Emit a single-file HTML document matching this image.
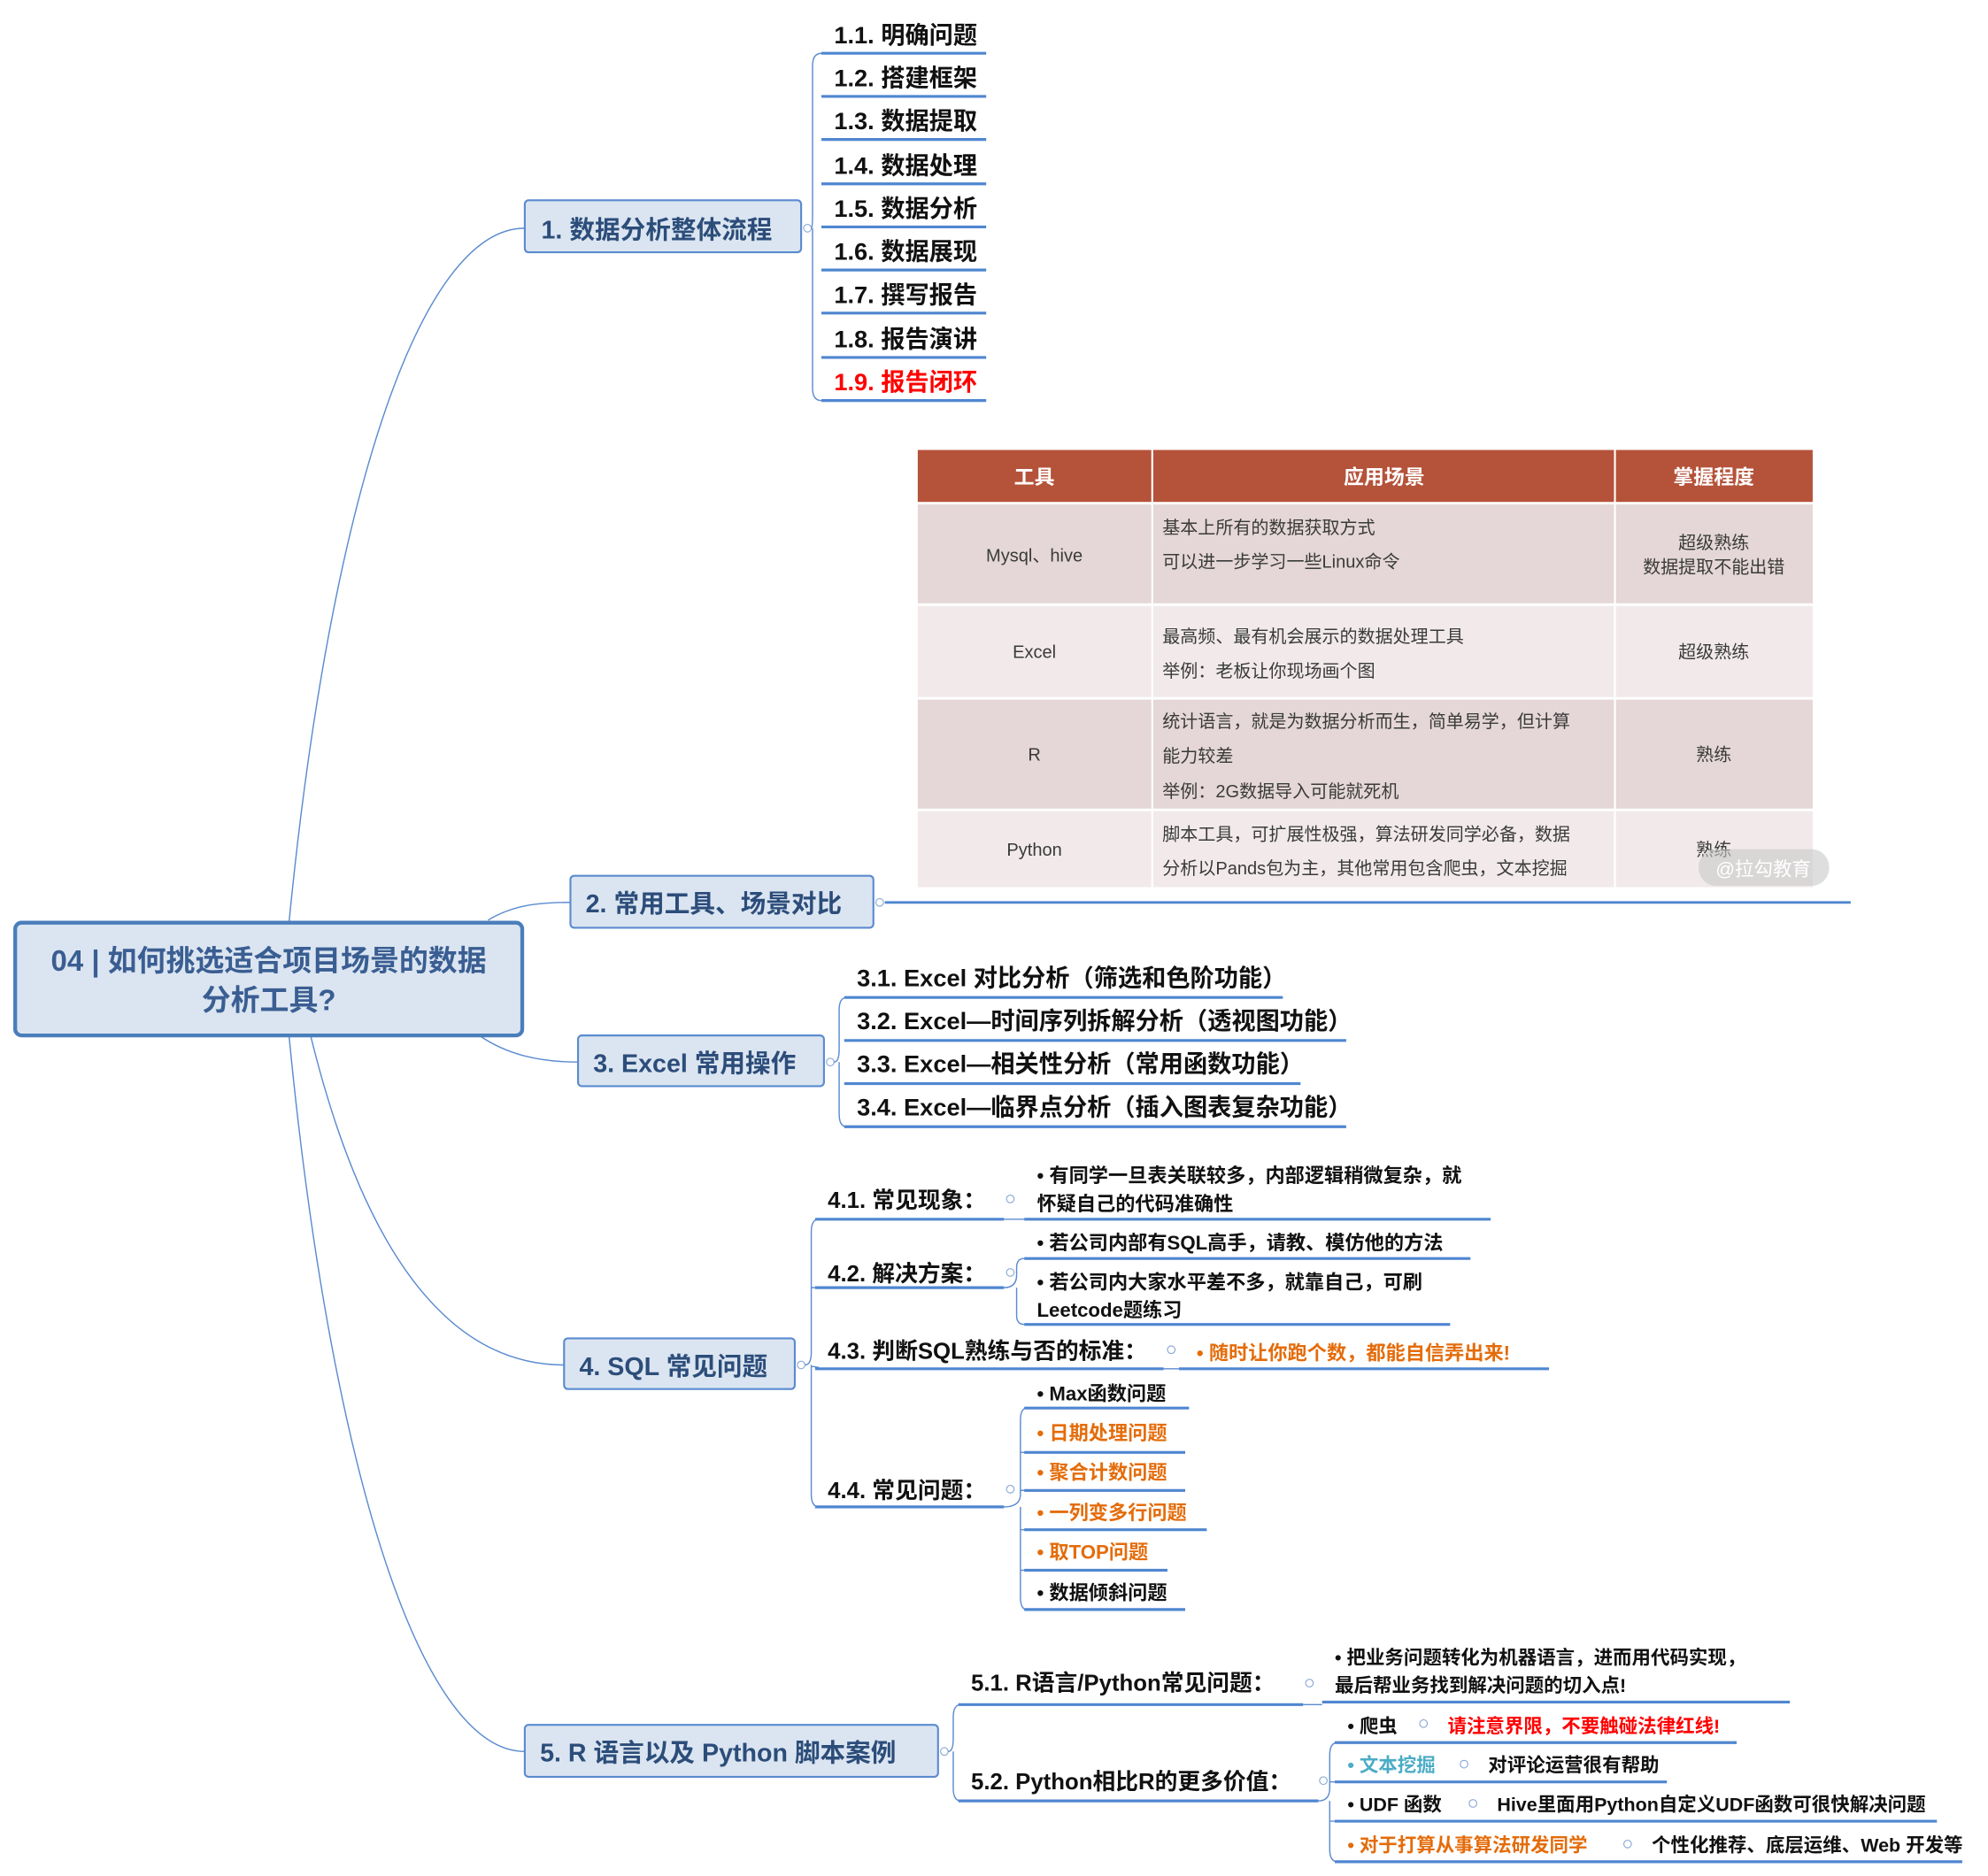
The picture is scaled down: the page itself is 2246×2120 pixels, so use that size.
<!DOCTYPE html>
<html><head><meta charset="utf-8"><style>
html,body{margin:0;padding:0;background:#fff}
svg{display:block}
text{font-family:"Liberation Sans","Noto Sans CJK SC",sans-serif}
.b{font-weight:bold;fill:#111}
.bx{fill:#dbe5f1;stroke:#5b8bd0;stroke-width:1.5}
.bt{font-weight:bold;fill:#2c4d7a;font-size:20px}
.ul{stroke:#4f86d0;stroke-width:2.2;fill:none}
.ln{stroke:#5b8bd0;stroke-width:1;fill:none}
.o{fill:#e46c0a;font-weight:bold}
.r{fill:#ff0000;font-weight:bold}
.t{font-size:14px;fill:#3a3a3a}
.dot{fill:#fff;stroke:#8aa9d6;stroke-width:0.8}
</style></head><body>
<svg width="2246" height="2120" viewBox="0 0 1568.3 1480.2" xmlns="http://www.w3.org/2000/svg">
<!-- root connectors -->
<path class="ln" d="M228 728 C260 400 330 180 414 180"/>
<path class="ln" d="M385 726 C405 714 425 712 450 712"/>
<path class="ln" d="M378 817 C400 832 425 838 456 838"/>
<path class="ln" d="M245 817 C290 1000 360 1077 445 1077"/>
<path class="ln" d="M228 817 C260 1150 330 1382 414 1382"/>

<!-- root -->
<rect x="12" y="728" width="400" height="89" rx="5" fill="#dbe5f1" stroke="#4a7ebb" stroke-width="3"/>
<text x="212" y="766" text-anchor="middle" font-size="23" font-weight="bold" fill="#3a5e92">04 | 如何挑选适合项目场景的数据</text>
<text x="212" y="797" text-anchor="middle" font-size="23" font-weight="bold" fill="#3a5e92">分析工具?</text>

<!-- branch 1 -->
<rect class="bx" x="414" y="158" width="218" height="41" rx="3"/>
<text class="bt" x="427" y="188">1. 数据分析整体流程</text>
<circle class="dot" cx="637" cy="180" r="3"/>
<path class="ln" d="M640 180 Q641 180 641 170 L641 52 Q641 42 648 42 M641 180 L641 306 Q641 316 648 316"/>
<g class="ul">
<line x1="648" y1="42" x2="778" y2="42"/><line x1="648" y1="76" x2="778" y2="76"/><line x1="648" y1="110" x2="778" y2="110"/>
<line x1="648" y1="145" x2="778" y2="145"/><line x1="648" y1="179" x2="778" y2="179"/><line x1="648" y1="213" x2="778" y2="213"/>
<line x1="648" y1="247" x2="778" y2="247"/><line x1="648" y1="282" x2="778" y2="282"/><line x1="648" y1="316" x2="778" y2="316"/>
</g>
<g class="b" font-size="19">
<text x="658" y="34">1.1. 明确问题</text><text x="658" y="68">1.2. 搭建框架</text><text x="658" y="102">1.3. 数据提取</text>
<text x="658" y="137">1.4. 数据处理</text><text x="658" y="171">1.5. 数据分析</text><text x="658" y="205">1.6. 数据展现</text>
<text x="658" y="239">1.7. 撰写报告</text><text x="658" y="274">1.8. 报告演讲</text>
</g>
<text x="658" y="308" font-size="19" class="r">1.9. 报告闭环</text>

<!-- branch 2 -->
<rect class="bx" x="450" y="691" width="239" height="41" rx="3"/>
<text class="bt" x="462" y="720">2. 常用工具、场景对比</text>
<circle class="dot" cx="694" cy="712" r="3"/>
<line x1="698" y1="712" x2="1460" y2="712" stroke="#4f86d0" stroke-width="2"/>

<!-- table -->
<rect x="724" y="355" width="706" height="41" fill="#b5523a"/>
<rect x="724" y="398" width="706" height="78" fill="#e5d7d7"/>
<rect x="724" y="478" width="706" height="72" fill="#f2eaea"/>
<rect x="724" y="552" width="706" height="86" fill="#e5d7d7"/>
<rect x="724" y="640" width="706" height="60" fill="#f2eaea"/>
<line x1="909" y1="355" x2="909" y2="700" stroke="#fff" stroke-width="1.5"/>
<line x1="1274" y1="355" x2="1274" y2="700" stroke="#fff" stroke-width="1.5"/>
<g font-size="16" font-weight="bold" fill="#fff" text-anchor="middle">
<text x="816" y="382">工具</text><text x="1092" y="382">应用场景</text><text x="1352" y="382">掌握程度</text></g>
<g class="t" text-anchor="middle">
<text x="816" y="443">Mysql、hive</text><text x="816" y="519">Excel</text><text x="816" y="600">R</text><text x="816" y="675">Python</text>
<text x="1352" y="433">超级熟练</text><text x="1352" y="452">数据提取不能出错</text>
<text x="1352" y="519">超级熟练</text><text x="1352" y="600">熟练</text><text x="1352" y="675">熟练</text></g>
<g class="t">
<text x="917" y="421">基本上所有的数据获取方式</text><text x="917" y="448">可以进一步学习一些Linux命令</text>
<text x="917" y="507">最高频、最有机会展示的数据处理工具</text><text x="917" y="534">举例：老板让你现场画个图</text>
<text x="917" y="574">统计语言，就是为数据分析而生，简单易学，但计算</text><text x="917" y="601">能力较差</text><text x="917" y="629">举例：2G数据导入可能就死机</text>
<text x="917" y="663">脚本工具，可扩展性极强，算法研发同学必备，数据</text><text x="917" y="690">分析以Pands包为主，其他常用包含爬虫，文本挖掘</text></g>
<rect x="1340" y="670" width="103" height="29" rx="14" fill="#c8c8c8" opacity="0.6"/>
<text x="1391" y="691" text-anchor="middle" font-size="15" fill="#fff">@拉勾教育</text>

<!-- branch 3 -->
<rect class="bx" x="456" y="817" width="194" height="40" rx="3"/>
<text class="bt" x="468" y="846">3. Excel 常用操作</text>
<circle class="dot" cx="655" cy="838" r="3"/>
<path class="ln" d="M658 838 Q662 838 662 828 L662 797 Q662 787 668 787 M662 838 L662 879 Q662 889 668 889"/>
<g class="ul"><line x1="666" y1="787" x2="1012" y2="787"/><line x1="666" y1="821" x2="1062" y2="821"/><line x1="666" y1="855" x2="1026" y2="855"/><line x1="666" y1="889" x2="1062" y2="889"/></g>
<g class="b" font-size="19">
<text x="676" y="778">3.1. Excel 对比分析（筛选和色阶功能）</text>
<text x="676" y="812">3.2. Excel—时间序列拆解分析（透视图功能）</text>
<text x="676" y="846">3.3. Excel—相关性分析（常用函数功能）</text>
<text x="676" y="880">3.4. Excel—临界点分析（插入图表复杂功能）</text></g>

<!-- branch 4 -->
<rect class="bx" x="445" y="1056" width="182" height="40" rx="3"/>
<text class="bt" x="457" y="1085">4. SQL 常见问题</text>
<circle class="dot" cx="632" cy="1077" r="3"/>
<path class="ln" d="M635 1077 Q640 1077 640 1067 L640 972 Q640 962 646 962 M640 1077 L640 1179 Q640 1189 646 1189 M640 1016 L646 1016 M640 1078 L646 1079"/>
<g class="ul"><line x1="643" y1="962" x2="792" y2="962"/><line x1="643" y1="1016" x2="792" y2="1016"/><line x1="643" y1="1080" x2="918" y2="1080"/><line x1="643" y1="1189" x2="792" y2="1189"/></g>
<g class="b" font-size="18">
<text x="653" y="953">4.1. 常见现象：</text><text x="653" y="1011">4.2. 解决方案：</text>
<text x="653" y="1072">4.3. 判断SQL熟练与否的标准：</text><text x="653" y="1182">4.4. 常见问题：</text></g>
<circle class="dot" cx="797" cy="946" r="3"/><circle class="dot" cx="797" cy="1004" r="3"/><circle class="dot" cx="924" cy="1065" r="3"/><circle class="dot" cx="797" cy="1175" r="3"/>
<line class="ln" x1="792" y1="962" x2="808" y2="962"/>
<line class="ln" x1="918" y1="1080" x2="930" y2="1080"/>
<path class="ln" d="M792 1016 Q802 1016 802 1006 L802 1000 Q802 993 808 993 M802 1016 L802 1038 Q802 1045 808 1045"/>
<path class="ln" d="M792 1189 Q805 1189 805 1179 L805 1121 Q805 1111 810 1111 M805 1189 L805 1260 Q805 1270 810 1270 M805 1146 L810 1146 M805 1176 L810 1176 M805 1207 L810 1207 M805 1239 L810 1239"/>
<g class="ul"><line x1="808" y1="962" x2="1176" y2="962"/><line x1="808" y1="993" x2="1160" y2="993"/><line x1="808" y1="1045" x2="1144" y2="1045"/><line x1="930" y1="1080" x2="1222" y2="1080"/>
<line x1="808" y1="1111" x2="938" y2="1111"/><line x1="808" y1="1146" x2="935" y2="1146"/><line x1="808" y1="1176" x2="935" y2="1176"/><line x1="808" y1="1207" x2="952" y2="1207"/><line x1="808" y1="1239" x2="921" y2="1239"/><line x1="808" y1="1270" x2="935" y2="1270"/></g>
<g class="b" font-size="15.5">
<text x="818" y="933">• 有同学一旦表关联较多，内部逻辑稍微复杂，就</text><text x="818" y="955">怀疑自己的代码准确性</text>
<text x="818" y="986">• 若公司内部有SQL高手，请教、模仿他的方法</text>
<text x="818" y="1017">• 若公司内大家水平差不多，就靠自己，可刷</text><text x="818" y="1039">Leetcode题练习</text>
<text x="818" y="1105">• Max函数问题</text><text x="818" y="1262">• 数据倾斜问题</text></g>
<g class="o" font-size="15.5">
<text x="944" y="1073">• 随时让你跑个数，都能自信弄出来!</text>
<text x="818" y="1136">• 日期处理问题</text><text x="818" y="1167">• 聚合计数问题</text><text x="818" y="1199">• 一列变多行问题</text><text x="818" y="1230">• 取TOP问题</text></g>

<!-- branch 5 -->
<rect class="bx" x="414" y="1361" width="326" height="41" rx="3"/>
<text class="bt" x="426" y="1390">5. R 语言以及 Python 脚本案例</text>
<circle class="dot" cx="745" cy="1382" r="3"/>
<path class="ln" d="M748 1382 Q752 1382 752 1372 L752 1355 Q752 1345 758 1345 M752 1382 L752 1411 Q752 1421 758 1421"/>
<g class="ul"><line x1="756" y1="1345" x2="1028" y2="1345"/><line x1="756" y1="1421" x2="1040" y2="1421"/></g>
<g class="b" font-size="18"><text x="766" y="1334">5.1. R语言/Python常见问题：</text><text x="766" y="1412">5.2. Python相比R的更多价值：</text></g>
<circle class="dot" cx="1033" cy="1328" r="3"/><circle class="dot" cx="1044" cy="1405" r="3"/>
<line class="ln" x1="1028" y1="1345" x2="1043" y2="1345"/>
<path class="ln" d="M1040 1421 Q1049 1421 1049 1411 L1049 1385 Q1049 1375 1055 1375 M1049 1421 L1049 1459 Q1049 1469 1055 1469 M1049 1406 L1055 1406 M1049 1437 L1055 1437"/>
<g class="ul"><line x1="1043" y1="1343" x2="1412" y2="1343"/><line x1="1053" y1="1375" x2="1370" y2="1375"/><line x1="1053" y1="1406" x2="1315" y2="1406"/><line x1="1053" y1="1437" x2="1528" y2="1437"/><line x1="1053" y1="1469" x2="1548" y2="1469"/></g>
<g class="b" font-size="15">
<text x="1053" y="1313">• 把业务问题转化为机器语言，进而用代码实现，</text><text x="1053" y="1335">最后帮业务找到解决问题的切入点!</text>
<text x="1063" y="1367">• 爬虫</text><text x="1174" y="1398">对评论运营很有帮助</text>
<text x="1063" y="1429">• UDF 函数</text><text x="1181" y="1429">Hive里面用Python自定义UDF函数可很快解决问题</text>
<text x="1303" y="1461">个性化推荐、底层运维、Web 开发等</text></g>
<text x="1142" y="1367" class="r" font-size="15">请注意界限，不要触碰法律红线!</text>
<text x="1063" y="1398" font-size="15" font-weight="bold" fill="#4bacc6">• 文本挖掘</text>
<text x="1063" y="1461" class="o" font-size="15">• 对于打算从事算法研发同学</text>
<circle class="dot" cx="1123" cy="1360" r="3"/><circle class="dot" cx="1155" cy="1392" r="3"/><circle class="dot" cx="1162" cy="1423" r="3"/><circle class="dot" cx="1284" cy="1455" r="3"/>
</svg>
</body></html>
